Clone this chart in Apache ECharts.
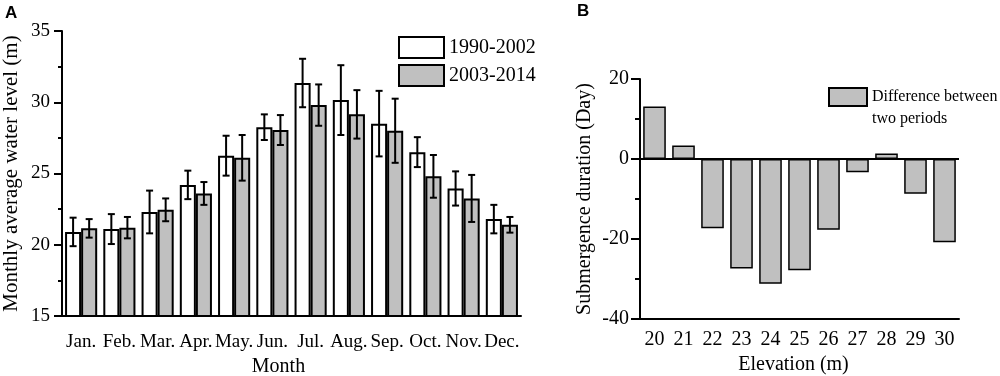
<!DOCTYPE html>
<html>
<head>
<meta charset="utf-8">
<script src="https://cdn.jsdelivr.net/npm/echarts@6/dist/echarts.min.js"></script>
<style>
  html, body { margin: 0; padding: 0; background: #fff; }
  #chart { width: 1000px; height: 376px; }
</style>
</head>
<body>
<div id="chart"></div>
<script>
// panel A: monthly water level
const months = ["Jan.", "Feb.", "Mar.", "Apr.", "May.", "Jun.", "Jul.", "Aug.", "Sep.", "Oct.", "Nov.", "Dec."];
const level1990 = [20.9, 21.1, 22.3, 24.2, 26.25, 28.25, 31.35, 30.15, 28.5, 26.5, 23.95, 21.8];
const err1990 = [1.0, 1.05, 1.5, 1.0, 1.4, 0.9, 1.7, 2.45, 2.3, 1.05, 1.2, 1.0];
const level2003 = [21.15, 21.2, 22.45, 23.6, 26.1, 28.05, 29.8, 29.15, 28.0, 24.8, 23.25, 21.4];
const err2003 = [0.65, 0.75, 0.8, 0.8, 1.6, 1.05, 1.45, 1.7, 2.25, 1.5, 1.65, 0.55];

// panel B: submergence difference
const elevations = ["20", "21", "22", "23", "24", "25", "26", "27", "28", "29", "30"];
const diffDays = [13.1, 3.4, -17.3, -27.4, -31.2, -27.8, -17.7, -3.3, 1.4, -8.7, -20.8];

const serif = "Liberation Serif";
const gapA = 0.16;

// error bar drawn over one of the two bars of a month
function errorBar(side) {
  return function (params, api) {
    let i = api.value(0);
    let v = api.value(1);
    let e = api.value(2);
    let c = api.coord([i, v]);
    let band = api.size([1, 0])[0];
    let bw = band * (1 - gapA) / 2;
    let x = c[0] + side * bw / 2;
    let top = api.coord([i, v + e])[1];
    let bot = api.coord([i, v - e])[1];
    let cap = 3.5;
    let st = { stroke: "#000", lineWidth: 2 };
    return {
      type: "group",
      children: [
        { type: "line", shape: { x1: x, y1: top, x2: x, y2: bot }, style: st },
        { type: "line", shape: { x1: x - cap, y1: top, x2: x + cap, y2: top }, style: st },
        { type: "line", shape: { x1: x - cap, y1: bot, x2: x + cap, y2: bot }, style: st },
      ],
    };
  };
}

const chart = echarts.init(document.getElementById("chart"));
const axisTxt = { color: "#000", fontFamily: serif, fontSize: 19 };

chart.setOption({
  animation: false,
  backgroundColor: "#fff",
  textStyle: { fontFamily: serif, color: "#000" },
  graphic: [
    { type: "text", left: 5, top: 5, style: { text: "A", font: "bold 17px Liberation Sans", fill: "#000" } },
    { type: "text", left: 577, top: 3, style: { text: "B", font: "bold 17px Liberation Sans", fill: "#000" } },
  ],
  legend: [
    {
      data: ["1990-2002", "2003-2014"],
      orient: "vertical",
      left: 393,
      top: 31,
      itemWidth: 45,
      itemHeight: 21,
      itemGap: 5,
      icon: "rect",
      itemStyle: { borderColor: "#000", borderWidth: 2 },
      textStyle: { fontFamily: serif, fontSize: 20, color: "#000" },
    },
    {
      data: ["Difference between two periods"],
      left: 823,
      top: 59,
      itemWidth: 38,
      itemHeight: 18,
      icon: "rect",
      itemStyle: { borderColor: "#000", borderWidth: 2 },
      formatter: () => "\nDifference between\ntwo periods",
      textStyle: { fontFamily: serif, fontSize: 16, color: "#000", lineHeight: 22 },
    },
  ],
  grid: [
    { left: 62, right: 479, top: 31, bottom: 60, outerBoundsMode: "none" },
    { left: 640, right: 41, top: 79, bottom: 57, outerBoundsMode: "none" },
  ],
  xAxis: [
    {
      gridIndex: 0,
      type: "category",
      data: months,
      name: "Month",
      nameLocation: "middle",
      nameGap: 41,
      nameTextStyle: { fontFamily: serif, fontSize: 20, color: "#000", padding: [0, 26, 0, 0] },
      axisLine: { lineStyle: { color: "#000", width: 2 } },
      axisTick: { alignWithLabel: true, length: 10, lineStyle: { color: "#000", width: 2 } },
      axisLabel: Object.assign({ margin: 17, interval: 0 }, axisTxt),
    },
    {
      gridIndex: 1,
      type: "category",
      data: elevations,
      name: "Elevation (m)",
      nameLocation: "middle",
      nameGap: 33,
      nameTextStyle: { fontFamily: serif, fontSize: 20, color: "#000", padding: [0, 12, 0, 0] },
      axisLine: { onZero: false, lineStyle: { color: "#000", width: 2 } },
      axisTick: { alignWithLabel: true, length: 9, lineStyle: { color: "#000", width: 2 } },
      axisLabel: Object.assign({ margin: 11, interval: 0 }, axisTxt, { fontSize: 20 }),
    },
  ],
  yAxis: [
    {
      gridIndex: 0,
      type: "value",
      min: 15,
      max: 35,
      interval: 5,
      name: "Monthly average water level (m)",
      nameLocation: "middle",
      nameGap: 40,
      nameTextStyle: { fontFamily: serif, fontSize: 21, color: "#000" },
      axisLine: { show: true, lineStyle: { color: "#000", width: 2 } },
      axisTick: { show: true, length: 8, lineStyle: { color: "#000", width: 2 } },
      minorTick: { show: true, splitNumber: 2, length: 4, lineStyle: { color: "#000", width: 2 } },
      splitLine: { show: false },
      axisLabel: Object.assign({ margin: 12 }, axisTxt),
    },
    {
      gridIndex: 1,
      type: "value",
      min: -40,
      max: 20,
      interval: 20,
      name: "Submergence duration (Day)",
      nameLocation: "middle",
      nameGap: 45,
      nameTextStyle: { fontFamily: serif, fontSize: 20, color: "#000" },
      axisLine: { show: true, lineStyle: { color: "#000", width: 2 } },
      axisTick: { show: true, length: 9, lineStyle: { color: "#000", width: 2 } },
      minorTick: { show: true, splitNumber: 2, length: 5, lineStyle: { color: "#000", width: 2 } },
      splitLine: { show: false },
      axisLabel: Object.assign({ margin: 11 }, axisTxt, { fontSize: 20 }),
    },
  ],
  series: [
    {
      name: "1990-2002",
      type: "bar",
      xAxisIndex: 0,
      yAxisIndex: 0,
      data: level1990,
      barGap: "0%",
      barCategoryGap: gapA * 100 + "%",
      itemStyle: { color: "#fff", borderColor: "#000", borderWidth: 2 },
    },
    {
      name: "2003-2014",
      type: "bar",
      xAxisIndex: 0,
      yAxisIndex: 0,
      data: level2003,
      barGap: "0%",
      barCategoryGap: gapA * 100 + "%",
      itemStyle: { color: "#c0c0c0", borderColor: "#000", borderWidth: 2 },
    },
    {
      type: "custom",
      xAxisIndex: 0,
      yAxisIndex: 0,
      renderItem: errorBar(-1),
      encode: { x: 0, y: 1 },
      data: months.map((m, i) => [i, level1990[i], err1990[i]]),
      z: 5,
      silent: true,
    },
    {
      type: "custom",
      xAxisIndex: 0,
      yAxisIndex: 0,
      renderItem: errorBar(1),
      encode: { x: 0, y: 1 },
      data: months.map((m, i) => [i, level2003[i], err2003[i]]),
      z: 5,
      silent: true,
    },
    {
      name: "Difference between two periods",
      type: "bar",
      xAxisIndex: 1,
      yAxisIndex: 1,
      data: diffDays,
      barCategoryGap: "22%",
      itemStyle: { color: "#c0c0c0", borderColor: "#000", borderWidth: 1.5 },
      markLine: {
        silent: true,
        symbol: "none",
        label: { show: false },
        lineStyle: { color: "#000", width: 2, type: "solid" },
        data: [{ yAxis: 0 }],
      },
    },
  ],
});
</script>
</body>
</html>
